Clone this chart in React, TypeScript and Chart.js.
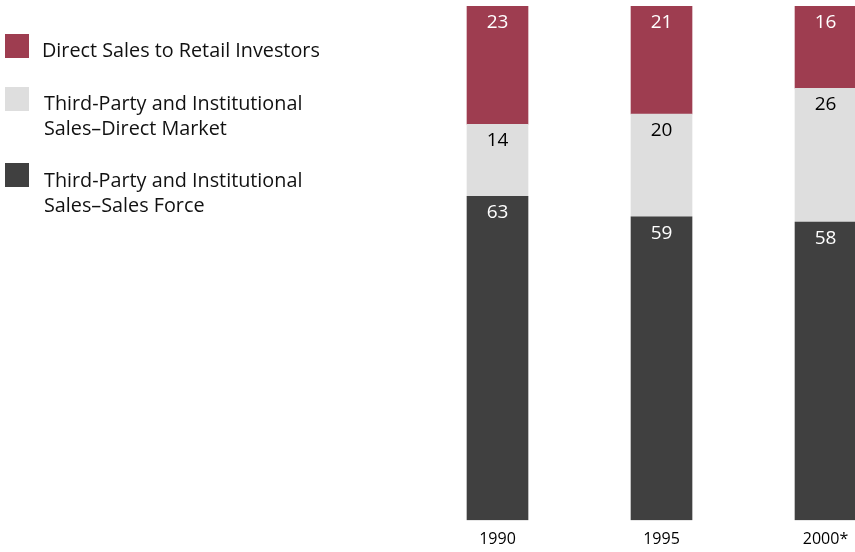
import React, { useEffect, useRef } from "react";
import { Chart, registerables } from "chart.js";

Chart.register(...registerables);

const categories = ["1990", "1995", "2000*"];
const years = [1990, 1995, 2000];
const salesForce = [63, 59, 58];
const directMarket = [14, 20, 26];
const retail = [23, 21, 16];

const seriesNames = [
  "Direct Sales to Retail Investors",
  "Third-Party and Institutional\nSales\u2013Direct Market",
  "Third-Party and Institutional\nSales\u2013Sales Force",
];

const RED = "#9e3d50";
const LIGHT = "#dedede";
const DARK = "#404040";
const FONT = "'Open Sans', 'Noto Sans', sans-serif";

const labelPlugin = {
  id: "segLabels",
  afterDatasetsDraw(chart: any) {
    const ctx = chart.ctx;
    ctx.save();
    ctx.font = `19px ${FONT}`;
    ctx.textAlign = "center";
    ctx.textBaseline = "middle";
    chart.data.datasets.forEach((ds: any, di: number) => {
      const meta = chart.getDatasetMeta(di);
      meta.data.forEach((el: any, i: number) => {
        const v = ds.data[i].y;
        ctx.fillStyle = ds.labelColor;
        ctx.fillText(String(v), el.x, el.y + 16.5);
      });
    });
    ctx.restore();
  },
};

export default function App() {
  const ref = useRef<HTMLCanvasElement>(null);
  useEffect(() => {
    const chart = new Chart(ref.current!, {
      type: "bar",
      data: {
        datasets: [
          {
            label: seriesNames[2],
            data: years.map((x, i) => ({ x, y: salesForce[i] })),
            backgroundColor: DARK,
            labelColor: "#ffffff",
          } as any,
          {
            label: seriesNames[1],
            data: years.map((x, i) => ({ x, y: directMarket[i] })),
            backgroundColor: LIGHT,
            labelColor: "#000000",
          } as any,
          {
            label: seriesNames[0],
            data: years.map((x, i) => ({ x, y: retail[i] })),
            backgroundColor: RED,
            labelColor: "#ffffff",
          } as any,
        ],
      },
      options: {
        animation: false,
        responsive: false,
        barThickness: 61,
        borderWidth: 0,
        layout: { padding: { left: 430, right: 0, top: 6, bottom: -7.4 } },
        plugins: { legend: { display: false }, tooltip: { enabled: false } },
        scales: {
          x: {
            type: "linear",
            stacked: true,
            offset: false,
            min: 1987.942,
            max: 2000.899,
            grid: { display: false, drawTicks: false, offset: false },
            border: { display: false },
            afterBuildTicks: (axis: any) => {
              axis.ticks = years.map((v) => ({ value: v }));
            },
            afterFit: (axis: any) => {
              axis.paddingLeft = 0;
              axis.paddingRight = 0;
            },
            ticks: {
              padding: 10,
              color: "#000",
              font: { family: FONT, size: 16 },
              autoSkip: false,
              maxRotation: 0,
              callback: (v: any) => categories[years.indexOf(Number(v))] ?? "",
            },
          },
          y: {
            stacked: true,
            display: false,
            min: 0,
            max: 100,
          },
        },
      } as any,
      plugins: [labelPlugin],
    });
    return () => chart.destroy();
  }, []);

  const legendItems = [
    { color: RED, lines: [seriesNames[0]], boxTop: 34, textTop: 37, textLeft: 42 },
    { color: LIGHT, lines: seriesNames[1].split("\n"), boxTop: 87, textTop: 90, textLeft: 44 },
    { color: DARK, lines: seriesNames[2].split("\n"), boxTop: 163, textTop: 167, textLeft: 44 },
  ];

  return (
    <div style={{ position: "absolute", left: 0, top: 0, width: 855, height: 552 }}>
      <canvas ref={ref} width={855} height={552} style={{ position: "absolute", left: 0, top: 0 }} />
      {legendItems.map((it, k) => (
        <React.Fragment key={k}>
          <div
            style={{
              position: "absolute",
              left: 5,
              top: it.boxTop,
              width: 24,
              height: 24,
              background: it.color,
            }}
          />
          <div
            style={{
              position: "absolute",
              left: it.textLeft,
              top: it.textTop,
              font: `19.8px ${FONT}`,
              lineHeight: "25px",
              color: "#111",
              whiteSpace: "pre",
            }}
          >
            {it.lines.join("\n")}
          </div>
        </React.Fragment>
      ))}
    </div>
  );
}
